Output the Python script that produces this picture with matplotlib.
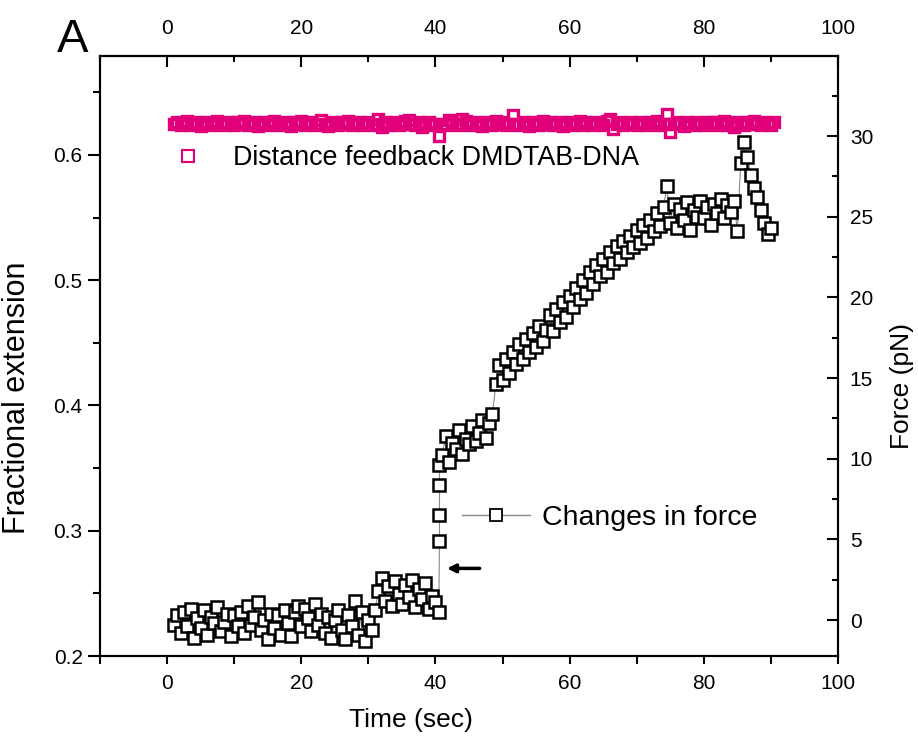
import numpy as np
import matplotlib
matplotlib.use('Agg')
import matplotlib.pyplot as plt
from matplotlib.lines import Line2D
from matplotlib.ticker import MultipleLocator

plt.rcParams['font.family'] = ['Liberation Sans', 'DejaVu Sans']

# distance feedback (fractional extension), sampled every 0.5 s from t = 1.0 s
pink_t0 = 1.0
pink_vals = [
    .625, .626, .624, .625, .627, .624, .625, .626, .623, .625, .626, .624, .625, .627, .625, .624, .626, .625, .624, .626,
    .625, .627, .624, .625, .626, .623, .625, .626, .624, .625, .627, .625, .624, .626, .625, .623, .626, .625, .627, .624,
    .625, .626, .624, .625, .628, .625, .623, .626, .625, .624, .626, .625, .627, .624, .625, .626, .624, .625, .626, .625,
    .624, .629, .622, .626, .624, .625, .626, .624, .625, .627, .628, .625, .624, .626, .622, .625, .626, .624, .625, .615,
    .625, .624, .628, .626, .625, .624, .629, .627, .625, .624, .626, .625, .623, .626, .625, .624, .627, .625, .626, .624,
    .625, .632, .625, .624, .626, .625, .623, .626, .625, .624, .627, .625, .626, .624, .625, .626, .623, .625, .626, .624,
    .625, .627, .624, .626, .625, .624, .626, .625, .624, .627, .629, .621, .625, .626, .624, .625, .626, .625, .624, .626,
    .625, .624, .626, .625, .627, .624, .625, .633, .618, .625, .626, .625, .623, .626, .625, .624, .626, .625, .624, .626,
    .625, .626, .624, .625, .627, .624, .625, .622, .626, .625, .624, .626, .625, .627, .625, .624, .626, .625, .624, .626,
]

# force (pN), segments sampled every 0.5 s
force_a_t0 = 1.0
force_a = [-0.3, 0.3, -0.8, 0.5, -0.4, 0.7, -1.1, 0.1, -0.5, 0.6,
           -0.9, 0.2, -0.2, 0.8, -0.7, -0.1, 0.4, -1.0, 0.3, -0.4,
           0.5, -0.8, 0.9, -0.3, 0.2, 1.1, -0.6, 0.0, -1.2, 0.4,
           -0.5, 0.3, -0.9, 0.6, -0.2, -1.0, 0.5, 0.9, -0.4, 0.7,
           0.1, -0.7, 1.0, -0.3, 0.4, -0.8, 0.2, -1.1, 0.0, 0.6,
           -0.6, -1.2, 0.3, -0.4, 1.2, -0.9, 0.5, -1.3, 0.0, -0.6]
force_b_t0 = 31.0
force_b = [0.6, 1.8, 2.6, 1.2, 2.1, 0.9, 2.4, 1.6, 1.0, 2.2,
           1.4, 2.5, 0.8, 1.9, 1.3, 2.3, 0.7, 1.5, 1.1, 0.5]
jump_t = [40.6, 40.6, 40.6, 40.6]
jump_f = [4.9, 6.5, 8.4, 9.6]
force_c_t0 = 41.0
force_c = [10.2, 11.4, 9.8, 11.0, 10.6, 11.8, 10.3, 11.2, 10.9, 12.0,
           11.1, 11.6, 12.4, 11.3, 12.2, 12.8]
force_d_t0 = 49.0
force_d = [14.6, 15.8, 14.9, 16.2, 15.3, 16.6, 15.9, 17.1, 16.2, 17.4,
           16.6, 17.8, 16.9, 18.2, 17.3, 18.0, 18.9, 17.9, 19.3, 18.5,
           19.7, 18.8, 20.1, 19.4, 20.6, 19.9, 21.1, 20.3, 21.6, 20.8,
           22.0, 21.3, 22.4, 21.6, 22.8, 22.1, 23.2, 22.4, 23.5, 22.8,
           23.8, 23.1, 24.2, 23.4, 24.5, 23.7, 24.8, 24.1, 25.2, 24.4,
           25.6, 26.9, 24.6, 25.8, 24.3, 25.5, 24.8, 25.9, 24.2, 25.4,
           25.0, 26.0, 24.9, 25.6, 24.5, 25.8, 25.2, 26.1, 24.9, 25.7,
           25.3, 26.0, 24.1, 28.3, 29.6, 28.7, 27.6, 26.8, 26.2, 25.4,
           24.6, 23.9, 24.3]

pink = '#e2007a'


def seg_times(t0, vals):
    return t0 + 0.5 * np.arange(len(vals))


pink_t = seg_times(pink_t0, pink_vals)
force_t = np.concatenate([seg_times(force_a_t0, force_a), seg_times(force_b_t0, force_b),
                          jump_t, seg_times(force_c_t0, force_c), seg_times(force_d_t0, force_d)])
force = np.concatenate([force_a, force_b, jump_f, force_c, force_d])

fig = plt.figure(figsize=(9.18, 7.37), dpi=100)
ax = fig.add_axes([100 / 918, 1 - 656 / 737, 738 / 918, 600 / 737])
ax2 = ax.twinx()

ax.plot(pink_t, pink_vals, linestyle='none', marker='s', markersize=7,
        markerfacecolor='none', markeredgecolor=pink, markeredgewidth=2.4)

ax2.plot(force_t, force, color='#8a8a8a', linewidth=0.8, marker='s', markersize=8.5,
         markerfacecolor='white', markeredgecolor='black', markeredgewidth=1.8)

ax.set_xlim(-10, 100)
ax.set_ylim(0.2, 0.679)
ax2.set_ylim(-2.23, 34.96)

for a in (ax, ax2):
    for s in a.spines.values():
        s.set_linewidth(1.5)

ax.xaxis.set_major_locator(MultipleLocator(20))
ax.xaxis.set_minor_locator(MultipleLocator(10))
ax.yaxis.set_major_locator(MultipleLocator(0.1))
ax.yaxis.set_minor_locator(MultipleLocator(0.05))
ax2.yaxis.set_major_locator(MultipleLocator(5))
ax2.yaxis.set_minor_locator(MultipleLocator(2.5))

ax.tick_params(axis='x', which='major', direction='out', length=6, width=1.5, labelsize=15, pad=7)
ax.tick_params(axis='x', which='minor', direction='out', length=6, width=1.5)
ax.tick_params(axis='y', which='major', direction='out', length=8.5, width=1.5, labelsize=15, pad=4)
ax.tick_params(axis='y', which='minor', direction='out', length=5, width=1.5)
ax2.tick_params(axis='y', which='major', direction='in', length=8, width=1.5, labelsize=15, pad=8.5)
ax2.tick_params(axis='y', which='minor', direction='in', length=4.5, width=1.5)

top = ax.secondary_xaxis('top')
top.xaxis.set_major_locator(MultipleLocator(20))
top.xaxis.set_minor_locator(MultipleLocator(10))
top.tick_params(axis='x', which='major', direction='in', length=8, width=1.5, labelsize=15, pad=13)
top.tick_params(axis='x', which='minor', direction='in', length=4.5, width=1.5)
top.spines['top'].set_linewidth(1.5)

ax.set_xlabel('Time (sec)', fontsize=19)
ax.xaxis.set_label_coords(0.421, -0.087)
ax.set_ylabel('Fractional extension', fontsize=22)
ax.yaxis.set_label_coords(-0.092, 0.43)
ax2.set_ylabel('Force (pN)', fontsize=19)
ax2.yaxis.set_label_coords(1.071, 0.45)

h_pink = Line2D([], [], linestyle='none', marker='s', markersize=8,
                markerfacecolor='none', markeredgecolor=pink, markeredgewidth=1.5)
ax.legend([h_pink], ['Distance feedback DMDTAB-DNA'], loc='center left',
          bbox_to_anchor=(0.103, 0.83), frameon=False, fontsize=19.4,
          handlelength=0.9, handletextpad=1.2, borderpad=0, borderaxespad=0)
h_force = Line2D([], [], color='#8a8a8a', linewidth=1.0, marker='s', markersize=9,
                 markerfacecolor='white', markeredgecolor='black', markeredgewidth=1.3)
ax2.legend([h_force], ['Changes in force'], loc='center left',
           bbox_to_anchor=(0.4905, 0.23), frameon=False, fontsize=20.5,
           handlelength=2.4, handletextpad=0.4, borderpad=0, borderaxespad=0)

ax2.annotate('', xy=(41.3, 3.2), xytext=(47, 3.2),
             arrowprops=dict(arrowstyle='-|>', color='black', lw=2.5, mutation_scale=12))

fig.text(57 / 918, 1 - 52 / 737, 'A', fontsize=34, ha='left', va='baseline')

fig.savefig('out.png', dpi=100)
